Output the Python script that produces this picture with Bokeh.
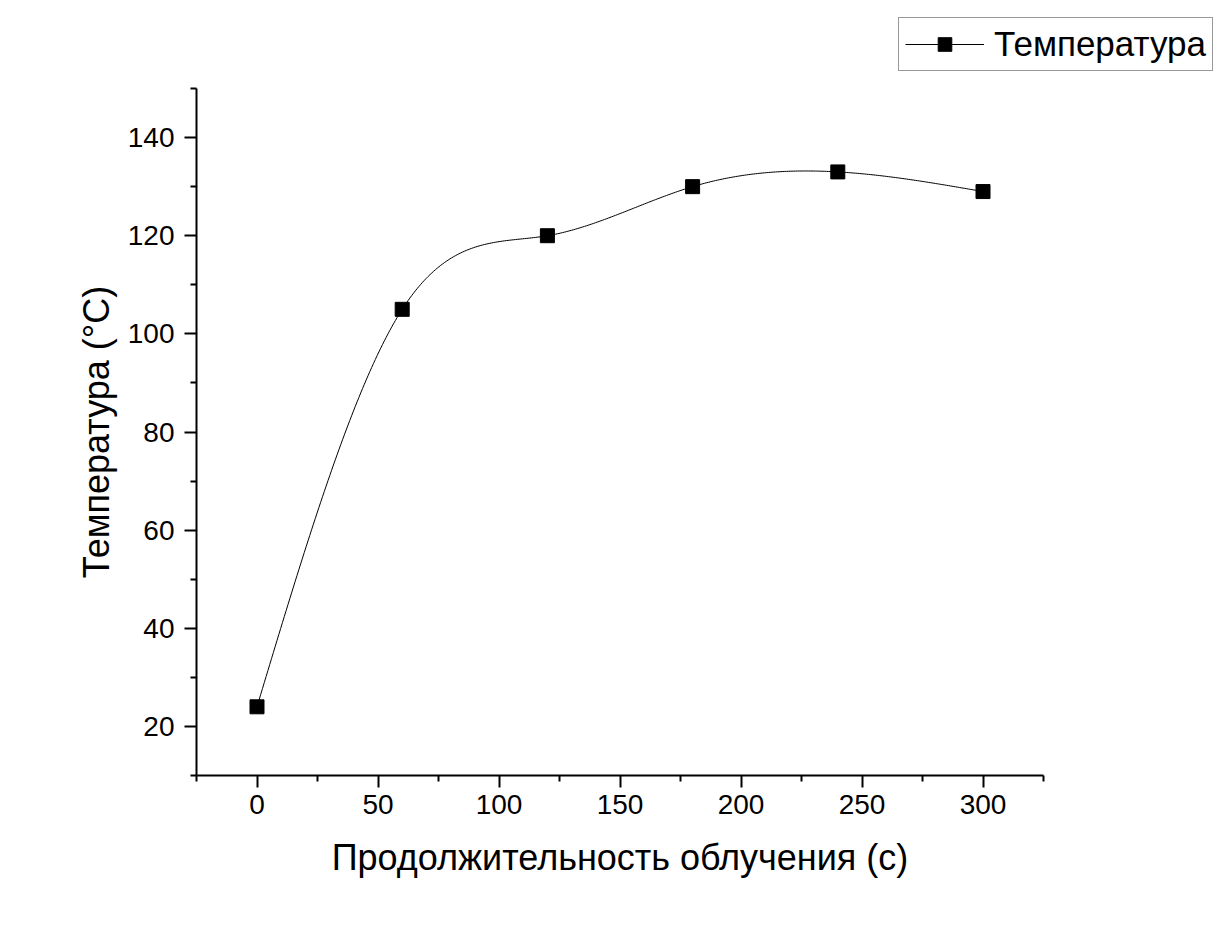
import numpy as np
from bokeh.plotting import figure
from bokeh.layouts import column, row
from bokeh.models import FixedTicker, Legend, LegendItem, Range1d, Spacer
from bokeh.embed import file_html
from bokeh.resources import INLINE

# ---- data ----
duration_s = [0, 60, 120, 180, 240, 300]
temperature_c = [24, 105, 120, 130, 133, 129]
x_major = [0, 50, 100, 150, 200, 250, 300]
x_minor = [-25, 25, 75, 125, 175, 225, 275, 325]
y_major = [20, 40, 60, 80, 100, 120, 140]
y_minor = [10, 30, 50, 70, 90, 110, 130, 150]

x_label = "Продолжительность облучения (с)"
y_label = "Температура (°C)"
series_name = "Температура"

FONT = "Liberation Sans"


def natural_spline(xs, ys, n_eval=400):
    xs = np.asarray(xs, float)
    ys = np.asarray(ys, float)
    n = len(xs)
    h = np.diff(xs)
    A = np.zeros((n, n))
    b = np.zeros(n)
    A[0, 0] = 1
    A[-1, -1] = 1
    for i in range(1, n - 1):
        A[i, i - 1] = h[i - 1]
        A[i, i] = 2 * (h[i - 1] + h[i])
        A[i, i + 1] = h[i]
        b[i] = 6 * ((ys[i + 1] - ys[i]) / h[i] - (ys[i] - ys[i - 1]) / h[i - 1])
    M = np.linalg.solve(A, b)
    xe = np.linspace(xs[0], xs[-1], n_eval)
    ye = np.empty_like(xe)
    for k, x in enumerate(xe):
        i = min(np.searchsorted(xs, x, side="right") - 1, n - 2)
        t1 = xs[i + 1] - x
        t0 = x - xs[i]
        hi = h[i]
        ye[k] = (M[i] * t1 ** 3 / (6 * hi) + M[i + 1] * t0 ** 3 / (6 * hi)
                 + (ys[i] / hi - M[i] * hi / 6) * t1
                 + (ys[i + 1] / hi - M[i + 1] * hi / 6) * t0)
    return xe, ye


sx, sy = natural_spline(duration_s, temperature_c)

LINE_KW = dict(line_color="black", line_width=1)
MARK_KW = dict(marker="square", size=14, fill_color="black", line_color="black")

# ---- main plot ----
p = figure(width=1215, height=839, output_backend="svg", toolbar_location=None,
           x_range=Range1d(-25, 325), y_range=Range1d(10, 150),
           min_border_left=196, min_border_right=172, min_border_top=13,
           min_border_bottom=139)
p.outline_line_color = None
p.xgrid.visible = False
p.ygrid.visible = False

p.line(sx, sy, **LINE_KW)
p.scatter(duration_s, temperature_c, **MARK_KW)

for ax, maj, mnr in ((p.xaxis[0], x_major, x_minor), (p.yaxis[0], y_major, y_minor)):
    ax.ticker = FixedTicker(ticks=maj, minor_ticks=mnr)
    ax.axis_line_width = 2
    ax.axis_line_color = "black"
    ax.major_tick_line_width = 2
    ax.minor_tick_line_width = 2
    ax.major_tick_line_color = "black"
    ax.minor_tick_line_color = "black"
    ax.major_tick_in = 0
    ax.minor_tick_in = 0
    ax.major_tick_out = 12
    ax.minor_tick_out = 6
    ax.major_label_text_font = FONT
    ax.major_label_text_font_size = "28px"
    ax.major_label_text_color = "black"
    ax.axis_label_text_font = FONT
    ax.axis_label_text_font_size = "36px"
    ax.axis_label_text_font_style = "normal"
    ax.axis_label_text_color = "black"

p.xaxis.axis_label = x_label
p.yaxis.axis_label = y_label
p.xaxis.major_label_standoff = 7
p.yaxis.major_label_standoff = 10
p.xaxis.axis_label_standoff = 20
p.yaxis.axis_label_standoff = 8

# ---- legend box (own small canvas, placed above-right of the plot) ----
# the series is plotted here too, but outside the visible range, so only the legend shows
lf = figure(width=327, height=58, output_backend="svg", toolbar_location=None,
            x_range=Range1d(1000, 1001), y_range=Range1d(1000, 1001),
            min_border=0, x_axis_type=None, y_axis_type=None)
lf.outline_line_color = None
lf.xgrid.visible = False
lf.ygrid.visible = False
lr = lf.line(duration_s, temperature_c, **LINE_KW)
lm = lf.scatter(duration_s, temperature_c, **MARK_KW)

legend = Legend(items=[LegendItem(label=series_name, renderers=[lr, lm])],
                location="top_left")
legend.label_text_font = FONT
legend.label_text_font_size = "35px"
legend.label_text_color = "black"
legend.glyph_width = 79
legend.glyph_height = 34
legend.label_height = 34
legend.label_standoff = 10
legend.padding = 6
legend.margin = 0
legend.spacing = 0
legend.border_line_color = "#333333"
legend.border_line_width = 1
legend.background_fill_alpha = 1
lf.add_layout(legend, "center")

layout = column(Spacer(height=17),
                row(Spacer(width=898), lf),
                p)
layout.styles = {"border-right": "1px solid #c8c8c8"}

open("out.html", "w").write(file_html(layout, INLINE))
